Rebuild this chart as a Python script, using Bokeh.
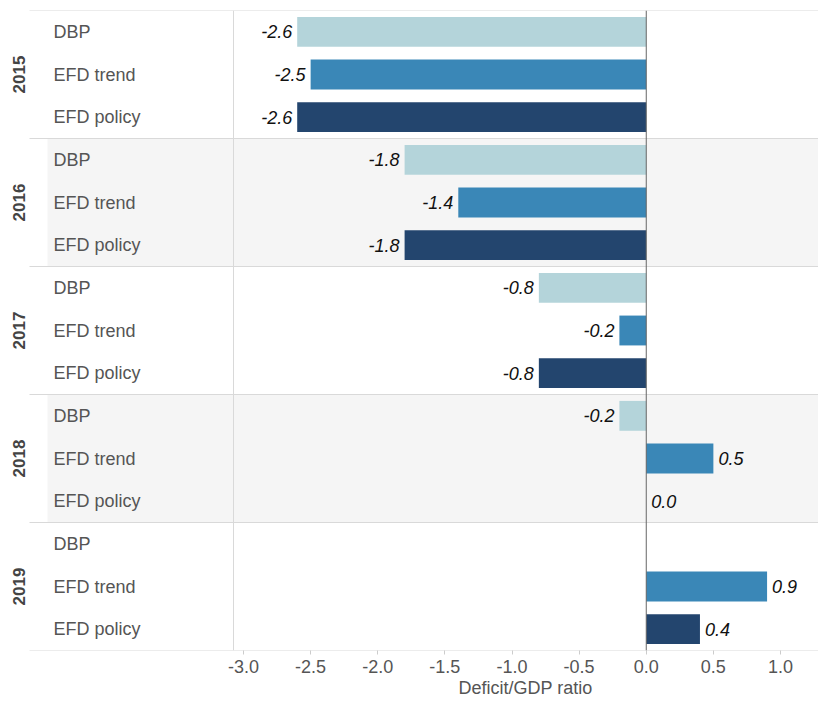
from math import pi
from bokeh.plotting import figure
from bokeh.models import (FactorRange, Range1d, FixedTicker, NumeralTickFormatter,
                          Span, ColumnDataSource, Title)
from bokeh.transform import factor_cmap
from bokeh.core.properties import value
from bokeh.embed import file_html
from bokeh.resources import INLINE

# ---------------- data ----------------
years = ["2015", "2016", "2017", "2018", "2019"]
cats = ["DBP", "EFD trend", "EFD policy"]
dbp = [-2.6, -1.8, -0.8, -0.2, None]
efd_trend = [-2.5, -1.4, -0.2, 0.5, 0.9]
efd_policy = [-2.6, -1.8, -0.8, 0.0, 0.4]
xticks = [-3.0, -2.5, -2.0, -1.5, -1.0, -0.5, 0.0, 0.5, 1.0]
x_title = "Deficit/GDP ratio"
palette = ["#b4d4da", "#3a87b7", "#23456e"]
shaded_years = ["2016", "2018"]

# ---------------- layout helpers ----------------
FRAME_W = 818
SCALE = 134.25           # pixels per data unit
ZERO_PX = 645.75         # pixel of x = 0
XS = -ZERO_PX / SCALE
XE = (FRAME_W - ZERO_PX) / SCALE


def px(x):
    """screen x (pixels from left) -> data x"""
    return XS + x / SCALE


FONT = value("Liberation Sans")
GRAY = "#555555"
LINE = "#d9d9d9"

factors = [(y, c) for y in years for c in cats][::-1]

p = figure(y_range=FactorRange(*factors, factor_padding=0, group_padding=0,
                               range_padding=0),
           x_range=Range1d(XS, XE),
           frame_width=FRAME_W, frame_height=640,
           min_border_top=10, min_border_left=0, min_border_right=0,
           min_border_bottom=0, y_axis_location=None,
           output_backend="svg", toolbar_location=None)
p.outline_line_color = None
p.grid.visible = False
p.background_fill_color = "white"
p.border_fill_color = "white"

# shaded groups
p.hbar(y=shaded_years, height=3, left=px(47), right=XE,
       fill_color="#f5f5f5", line_color=None)

# bars
rows = {"y": [], "val": [], "cat": [], "label": [], "align": [], "xoff": []}
series = dict(zip(cats, [dbp, efd_trend, efd_policy]))
for i, yr in enumerate(years):
    for c in cats:
        v = series[c][i]
        if v is None:
            continue
        rows["y"].append((yr, c))
        rows["val"].append(v)
        rows["cat"].append(c)
        rows["label"].append("%.1f" % v)
        rows["align"].append("right" if v < 0 else "left")
        rows["xoff"].append(-5 if v < 0 else 5)
src = ColumnDataSource(rows)

p.hbar(y="y", left=0, right="val", height=0.7, source=src,
       fill_color=factor_cmap("cat", palette, cats), line_color=None)

p.text(x="val", y="y", text="label", source=src, text_align="align",
       x_offset="xoff", text_baseline="middle", text_font=FONT,
       text_font_size="18px", text_font_style="italic", text_color="#111111")

# separators
sep_y = [(yr, "DBP", 0.5) for yr in years] + [(years[-1], "EFD policy", -0.5)]
p.segment(x0=px(29), x1=XE, y0=sep_y, y1=sep_y, line_color=LINE, line_width=1)

p.add_layout(Span(location=px(233), dimension="height", line_color=LINE,
                  line_width=1))
p.add_layout(Span(location=0, dimension="height", line_color="#666666",
                  line_width=1))

# category labels
p.text(x=px(53), y=factors, text=[f[1] for f in factors], text_align="left",
       text_baseline="middle", text_font=FONT, text_font_size="18px",
       text_color=GRAY)

# year labels
p.text(x=px(18), y=years, text=years, angle=pi / 2, text_align="center",
       text_baseline="middle", text_font=FONT, text_font_size="17px",
       text_font_style="bold", text_color="#444444")

# x axis
ax = p.xaxis[0]
ax.ticker = FixedTicker(ticks=xticks)
ax.formatter = NumeralTickFormatter(format="0.0")
ax.axis_line_color = None
ax.major_tick_in = 0
ax.major_tick_out = 4
ax.major_tick_line_color = "#cccccc"
ax.minor_tick_line_color = None
ax.major_label_text_font = "Liberation Sans"
ax.major_label_text_font_size = "18px"
ax.major_label_text_color = GRAY
ax.major_label_standoff = 5

# axis title, centred under the bar area (x = 233 .. 818 px)
p.add_layout(Title(text=x_title, align="left", offset=458, standoff=0,
                   text_font="Liberation Sans", text_font_size="18px",
                   text_font_style="normal", text_color=GRAY), "below")

open("out.html", "w").write(file_html(p, INLINE))
